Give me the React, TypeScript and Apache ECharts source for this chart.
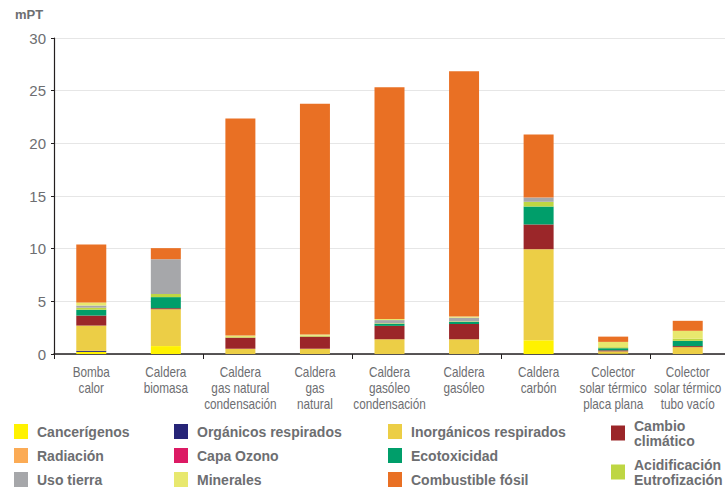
import React, { useEffect, useRef } from "react";
import * as echarts from "echarts";

const categories = [
  "Bomba\ncalor",
  "Caldera\nbiomasa",
  "Caldera\ngas natural\ncondensación",
  "Caldera\ngas\nnatural",
  "Caldera\ngasóleo\ncondensación",
  "Caldera\ngasóleo",
  "Caldera\ncarbón",
  "Colector\nsolar térmico\nplaca plana",
  "Colector\nsolar térmico\ntubo vacío",
];

const cancerigenos = [0.2, 0.75, 0, 0, 0, 0, 1.3, 0.05, 0];
const organicos = [0.1, 0, 0, 0, 0, 0, 0, 0, 0];
const inorganicos = [2.4, 3.5, 0.5, 0.5, 1.4, 1.4, 8.65, 0.2, 0.65];
const cambioClimatico = [0.95, 0.1, 1.05, 1.15, 1.27, 1.45, 2.35, 0.1, 0.1];
const radiacion = [0, 0, 0, 0, 0, 0, 0, 0, 0];
const capaOzono = [0, 0, 0, 0, 0, 0, 0, 0, 0];
const ecotoxicidad = [0.55, 1.05, 0, 0, 0.2, 0.2, 1.7, 0.2, 0.5];
const acidificacion = [0.2, 0.3, 0.05, 0.1, 0.05, 0.05, 0.45, 0.1, 0.2];
const usoTierra = [0.2, 3.3, 0, 0, 0.3, 0.35, 0.4, 0, 0];
const minerales = [0.3, 0, 0.15, 0.1, 0.1, 0.1, 0, 0.5, 0.75];
const combustibleFosil = [5.5, 1.05, 20.6, 21.9, 22.0, 23.3, 6.0, 0.5, 0.95];

const yTicks = [0, 5, 10, 15, 20, 25, 30];

const seriesDefs = [
  { name: "Cancerígenos", data: cancerigenos, color: "#fff200" },
  { name: "Orgánicos respirados", data: organicos, color: "#262477" },
  { name: "Inorgánicos respirados", data: inorganicos, color: "#ecce46" },
  { name: "Cambio climático", data: cambioClimatico, color: "#9b2629" },
  { name: "Radiación", data: radiacion, color: "#fbab55" },
  { name: "Capa Ozono", data: capaOzono, color: "#dc1a64" },
  { name: "Ecotoxicidad", data: ecotoxicidad, color: "#009e6a" },
  { name: "Acidificación Eutrofización", data: acidificacion, color: "#bed643" },
  { name: "Uso tierra", data: usoTierra, color: "#a6a7aa" },
  { name: "Minerales", data: minerales, color: "#e8e86e" },
  { name: "Combustible fósil", data: combustibleFosil, color: "#e97024" },
];

const legendCols = [
  ["Cancerígenos", "Radiación", "Uso tierra"],
  ["Orgánicos respirados", "Capa Ozono", "Minerales"],
  ["Inorgánicos respirados", "Ecotoxicidad", "Combustible fósil"],
  ["Cambio climático", "Acidificación Eutrofización"],
];

const legendLeft = [14, 174, 388, 611];

export default function App() {
  const ref = useRef<HTMLDivElement>(null);
  useEffect(() => {
    if (!ref.current) return;
    const chart = echarts.init(ref.current, null, { renderer: "svg" });
    const legendText = {
      fontSize: 14,
      fontWeight: "bold" as const,
      color: "#6d6e71",
      fontFamily: "Liberation Sans, Arial, sans-serif",
      lineHeight: 15,
      padding: [0, 0, 0, 4],
    };
    const legends = legendCols.map((col, i) => ({
      data: col,
      orient: "vertical" as const,
      left: legendLeft[i],
      top: i === 3 ? 418 : 424,
      itemWidth: 14,
      itemHeight: 15,
      itemGap: 9,
      padding: 0,
      icon: "rect",
      selectedMode: false,
      textStyle: legendText,
      formatter: (name: string) =>
        name === "Cambio climático"
          ? "Cambio\nclimático"
          : name === "Acidificación Eutrofización"
          ? "Acidificación\nEutrofización"
          : name,
    }));
    const mptText = {
      type: "text",
      id: "mpt",
      left: 15,
      top: 8,
      style: {
        text: "mPT",
        fontSize: 13,
        fontWeight: "bold",
        fill: "#6d6e71",
        fontFamily: "Liberation Sans, Arial, sans-serif",
      },
    };
    chart.setOption({
      animation: false,
      backgroundColor: "#ffffff",
      grid: { left: 54, right: 0, top: 38, bottom: 136, containLabel: false },
      graphic: [mptText],
      legend: legends,
      xAxis: {
        type: "category",
        data: categories,
        axisLine: { show: true, lineStyle: { color: "#231f20", width: 1.5 } },
        axisTick: { show: true, length: 5, lineStyle: { color: "#231f20" } },
        axisLabel: { show: false },
      },
      yAxis: {
        type: "value",
        min: yTicks[0],
        max: yTicks[yTicks.length - 1],
        interval: 5,
        axisLine: { show: true, lineStyle: { color: "#231f20", width: 1.2 } },
        axisTick: { show: true, length: 3, lineStyle: { color: "#231f20" } },
        splitLine: { show: true, lineStyle: { color: "#e6e6e6", width: 1 } },
        axisLabel: {
          color: "#6d6e71",
          fontSize: 15,
          margin: 8,
          fontFamily: "Liberation Sans, Arial, sans-serif",
        },
      },
      series: seriesDefs.map((s) => ({
        name: s.name,
        type: "bar",
        stack: "total",
        barWidth: 30,
        data: s.data,
        itemStyle: { color: s.color },
      })),
    });
    const baseY = chart.convertToPixel({ yAxisIndex: 0 }, yTicks[0]) as number;
    const labelEls = categories.map((c, i) => {
      const x = chart.convertToPixel({ xAxisIndex: 0 }, i) as number;
      return {
        type: "text",
        id: "xl" + i,
        x,
        y: baseY + 10,
        scaleX: 0.84,
        silent: true,
        style: {
          text: c,
          fontSize: 14,
          lineHeight: 16,
          fill: "#6d6e71",
          align: "center",
          verticalAlign: "top",
          fontFamily: "Liberation Sans, Arial, sans-serif",
        },
      };
    });
    chart.setOption({ graphic: [mptText, ...labelEls] });
    return () => chart.dispose();
  }, []);
  return <div ref={ref} style={{ width: 725, height: 490, position: "absolute", left: 0, top: 0 }} />;
}
